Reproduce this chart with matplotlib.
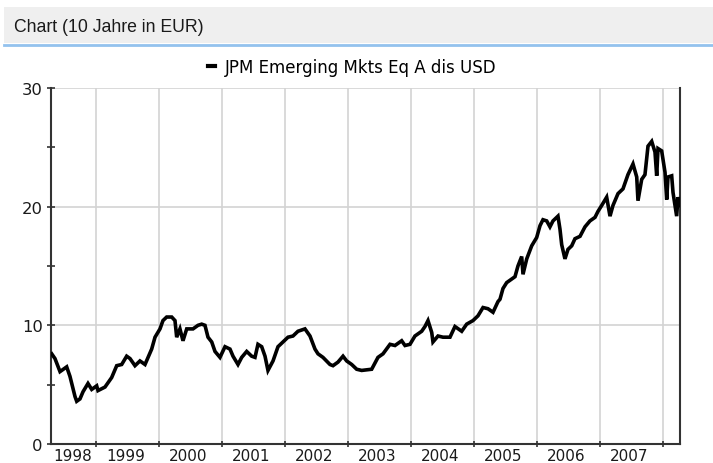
import matplotlib
matplotlib.use("Agg")
import matplotlib.pyplot as plt
from matplotlib.patches import Rectangle
from matplotlib.lines import Line2D

# ---- data ----
series_name = "JPM Emerging Mkts Eq A dis USD"
title_text = "Chart (10 Jahre in EUR)"

dates = [
    1998.297, 1998.349, 1998.429, 1998.535, 1998.587, 1998.667, 1998.694, 1998.746,
    1998.794, 1998.873, 1998.932, 1999.011, 1999.032, 1999.143, 1999.249, 1999.329,
    1999.408, 1999.487, 1999.540, 1999.619, 1999.698, 1999.778, 1999.884, 1999.937,
    2000.016, 2000.063, 2000.122, 2000.202, 2000.254, 2000.281, 2000.333, 2000.381,
    2000.440, 2000.540, 2000.619, 2000.678, 2000.730, 2000.778, 2000.837, 2000.889,
    2000.968, 2001.048, 2001.127, 2001.175, 2001.254, 2001.313, 2001.392, 2001.471,
    2001.524, 2001.571, 2001.630, 2001.683, 2001.730, 2001.810, 2001.889, 2001.968,
    2002.048, 2002.127, 2002.206, 2002.317, 2002.397, 2002.476, 2002.524, 2002.603,
    2002.714, 2002.762, 2002.841, 2002.921, 2002.979, 2003.059, 2003.138, 2003.217,
    2003.376, 2003.476, 2003.556, 2003.667, 2003.746, 2003.852, 2003.905, 2003.984,
    2004.063, 2004.170, 2004.222, 2004.270, 2004.329, 2004.349, 2004.429, 2004.508,
    2004.619, 2004.698, 2004.805, 2004.884, 2004.984, 2005.063, 2005.143, 2005.222,
    2005.302, 2005.381, 2005.413, 2005.460, 2005.519, 2005.598, 2005.651, 2005.698,
    2005.757, 2005.778, 2005.837, 2005.916, 2005.995, 2006.048, 2006.095, 2006.154,
    2006.206, 2006.254, 2006.333, 2006.365, 2006.392, 2006.444, 2006.492, 2006.551,
    2006.603, 2006.683, 2006.762, 2006.841, 2006.921, 2006.968, 2007.027, 2007.106,
    2007.159, 2007.206, 2007.286, 2007.365, 2007.444, 2007.524, 2007.583, 2007.603,
    2007.662, 2007.714, 2007.762, 2007.821, 2007.873, 2007.900, 2007.921, 2007.979,
    2008.032, 2008.059, 2008.079, 2008.138, 2008.159, 2008.217, 2008.238, 2008.270,
]
values = [
    7.6, 7.2, 6.1, 6.5, 5.7, 4.0, 3.6, 3.8,
    4.4, 5.1, 4.6, 4.9, 4.5, 4.8, 5.6, 6.6,
    6.7, 7.4, 7.2, 6.6, 7.0, 6.7, 8.0, 9.0,
    9.7, 10.4, 10.7, 10.7, 10.4, 9.0, 9.7, 8.7,
    9.7, 9.7, 10.0, 10.1, 10.0, 9.0, 8.6, 7.8,
    7.3, 8.2, 8.0, 7.4, 6.7, 7.3, 7.8, 7.4,
    7.3, 8.4, 8.2, 7.4, 6.2, 7.0, 8.2, 8.6,
    9.0, 9.1, 9.5, 9.7, 9.1, 8.0, 7.6, 7.3,
    6.7, 6.6, 6.9, 7.4, 7.0, 6.7, 6.3, 6.2,
    6.3, 7.3, 7.6, 8.4, 8.3, 8.7, 8.3, 8.4,
    9.1, 9.5, 9.9, 10.4, 9.4, 8.6, 9.1, 9.0,
    9.0, 9.9, 9.5, 10.1, 10.4, 10.8, 11.5, 11.4,
    11.1, 12.0, 12.2, 13.1, 13.6, 13.9, 14.1, 15.0,
    15.8, 14.3, 15.6, 16.7, 17.4, 18.4, 18.9, 18.8,
    18.3, 18.8, 19.2, 18.1, 16.8, 15.6, 16.4, 16.7,
    17.3, 17.5, 18.3, 18.8, 19.1, 19.6, 20.1, 20.8,
    19.2, 20.1, 21.1, 21.5, 22.7, 23.6, 22.5, 20.5,
    22.3, 22.7, 25.1, 25.5, 24.6, 22.6, 24.9, 24.7,
    22.9, 20.6, 22.5, 22.6, 21.2, 19.2, 20.8, 20.1,
]
year_labels = [1998, 1999, 2000, 2001, 2002, 2003, 2004, 2005, 2006, 2007]
year_bounds = [1999, 2000, 2001, 2002, 2003, 2004, 2005, 2006, 2007, 2008]
y_major = [0, 10, 20, 30]
y_minor = [5, 15, 25]
x_range = (1998.286, 2008.27)
y_range = (0, 30)

# ---- figure ----
W, H = 713, 464
fig = plt.figure(figsize=(W / 100, H / 100), dpi=100)
fig.patch.set_facecolor("white")

# header band
fig.patches.append(Rectangle((4 / W, 1 - 44 / H), (W - 4) / W, 36 / H,
                             transform=fig.transFigure, facecolor="#efefef",
                             edgecolor="none", zorder=0))
fig.add_artist(Line2D([4 / W, 1], [1 - 45.5 / H, 1 - 45.5 / H],
                      transform=fig.transFigure, color="#93c2ee", lw=2.0))
fig.text(14 / W, 1 - 27 / H, title_text, family="Liberation Sans",
         fontsize=12.7, color="#1a1a1a", va="center", ha="left")

ax = fig.add_axes([51 / W, 1 - 445 / H, (680 - 51) / W, (445 - 89) / H])
line, = ax.plot(dates, values, color="black", lw=2.6, solid_joinstyle="miter",
                label=series_name, zorder=3)
ax.set_xlim(*x_range)
ax.set_ylim(*y_range)

# spines
for s in ("left", "bottom", "right"):
    ax.spines[s].set_color("#333333")
    ax.spines[s].set_linewidth(1.5)
ax.spines["top"].set_visible(False)

grid_color = "#d3d3d3"
for yb in y_major[1:]:
    ax.axhline(yb, color=grid_color, lw=1.2, zorder=1)
for xb in year_bounds:
    ax.axvline(xb, color=grid_color, lw=1.2, zorder=1)

# y ticks
ax.set_yticks(y_major)
ax.set_yticks(y_minor, minor=True)
ax.tick_params(axis="y", which="both", direction="inout", length=6,
               width=1.2, color="#333333", pad=3, labelsize=11.8,
               labelcolor="#1a1a1a")
ax.yaxis.set_tick_params(which="minor", labelleft=False)

# x ticks: boundaries as major ticks, labels at centres as minor ticks
ax.set_xticks(year_bounds)
ax.set_xticklabels([])
label_pos = []
for i, y in enumerate(year_labels):
    if i == 0:
        label_pos.append((x_range[0] + year_bounds[0]) / 2 - 0.02)
    else:
        label_pos.append(y + 0.47)
ax.set_xticks(label_pos, minor=True)
ax.set_xticklabels([str(y) for y in year_labels], minor=True)
ax.tick_params(axis="x", which="major", direction="inout", length=5,
               width=1.2, color="#333333")
ax.tick_params(axis="x", which="minor", length=0, pad=3, labelsize=11.0,
               labelcolor="#1a1a1a")

for lab in ax.get_xticklabels(minor=True) + ax.get_yticklabels():
    lab.set_family("DejaVu Sans")

leg = ax.legend(handles=[line], loc="center",
                bbox_to_anchor=(352 / W, 1 - 68 / H),
                bbox_transform=fig.transFigure, frameon=False,
                prop={"family": "DejaVu Sans", "size": 12},
                handlelength=0.45, handletextpad=0.55, borderpad=0)
leg.get_lines()[0].set_linewidth(3)

fig.savefig("out.png", dpi=100)
